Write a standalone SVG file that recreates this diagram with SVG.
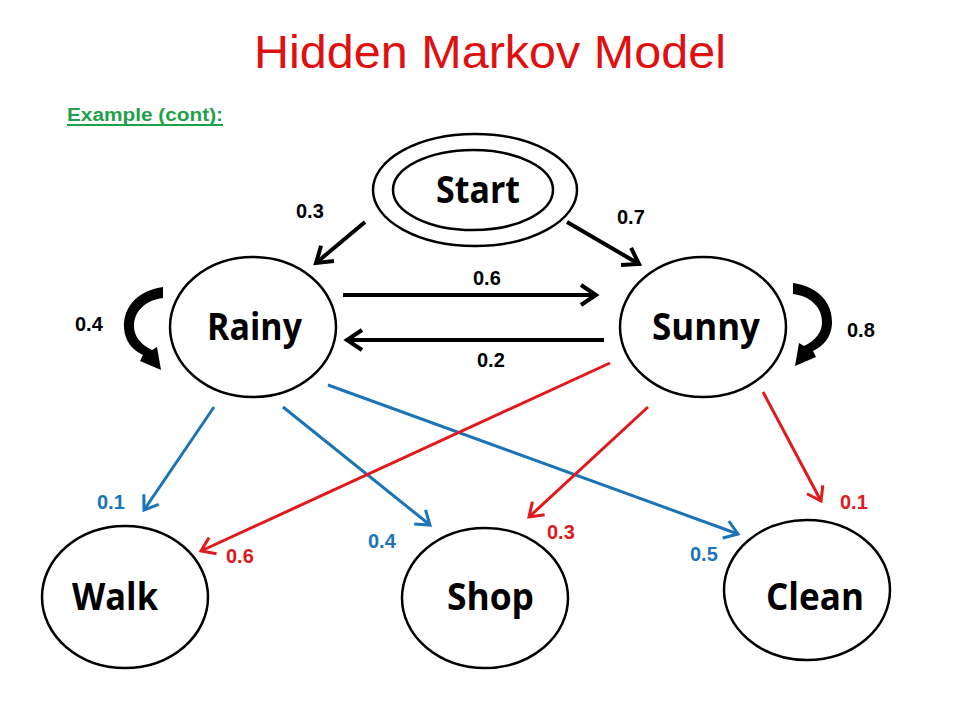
<svg xmlns="http://www.w3.org/2000/svg" width="960" height="720" viewBox="0 0 960 720">
<defs>
<style>
.node{fill:none;stroke:#000;stroke-width:2.5}
.lbl{font-family:"Open Sans","Liberation Sans",sans-serif;font-weight:bold;font-size:37px;fill:#000}
.num{font-family:"Liberation Sans",Arial,sans-serif;font-weight:bold;font-size:20px}
.k{stroke:#000;stroke-width:4;fill:none}
.b{stroke:#1b74b8;stroke-width:3;fill:none}
.r{stroke:#e0191c;stroke-width:3;fill:none}
</style>
<marker id="ak" markerUnits="userSpaceOnUse" markerWidth="30" markerHeight="30" viewBox="-20 -15 30 30" refX="0" refY="0" orient="auto">
<path d="M-15,-10 L0,0 L-15,10" fill="none" stroke="#000" stroke-width="4" stroke-linejoin="miter"/>
</marker>
<marker id="ab" markerUnits="userSpaceOnUse" markerWidth="30" markerHeight="30" viewBox="-20 -15 30 30" refX="0" refY="0" orient="auto">
<path d="M-13,-9 L0,0 L-13,9" fill="none" stroke="#1b74b8" stroke-width="3"/>
</marker>
<marker id="ar" markerUnits="userSpaceOnUse" markerWidth="30" markerHeight="30" viewBox="-20 -15 30 30" refX="0" refY="0" orient="auto">
<path d="M-13,-9 L0,0 L-13,9" fill="none" stroke="#e0191c" stroke-width="3"/>
</marker>
<path id="loop" d="M163,287 C140,290 123,305 124,328 C125,342 133,350 143,355 L140,361 L161,370 L157,347 L152,350 C140,344 134,336 134,326 C134,311 146,300 163,298 Z" fill="#000"/>
</defs>
<rect width="960" height="720" fill="#fff"/>
<text x="490" y="68" text-anchor="middle" font-family="Liberation Sans,Arial,sans-serif" font-size="46" fill="#e01010" textLength="472" lengthAdjust="spacingAndGlyphs">Hidden Markov Model</text>
<text x="67" y="121" font-family="Liberation Sans,Arial,sans-serif" font-weight="bold" font-size="18" fill="#1fa14b" textLength="156" lengthAdjust="spacingAndGlyphs">Example (cont):</text>
<line x1="67" y1="125" x2="223" y2="125" stroke="#1fa14b" stroke-width="2"/>

<g id="start">
<ellipse class="node" cx="475" cy="190" rx="102" ry="56"/>
<ellipse class="node" cx="473" cy="190" rx="80" ry="40"/>
<text class="lbl" x="436" y="203" textLength="84" lengthAdjust="spacingAndGlyphs">Start</text>
</g>
<g id="rainy">
<ellipse class="node" cx="253" cy="327" rx="83" ry="70"/>
<text class="lbl" x="207" y="340" textLength="95" lengthAdjust="spacingAndGlyphs">Rainy</text>
</g>
<g id="sunny">
<ellipse class="node" cx="703" cy="327" rx="83" ry="70"/>
<text class="lbl" x="652" y="340" textLength="108" lengthAdjust="spacingAndGlyphs">Sunny</text>
</g>
<g id="walk">
<ellipse class="node" cx="125" cy="597" rx="83" ry="71"/>
<text class="lbl" x="72" y="610" textLength="86" lengthAdjust="spacingAndGlyphs">Walk</text>
</g>
<g id="shop">
<ellipse class="node" cx="485" cy="598" rx="83" ry="70"/>
<text class="lbl" x="447" y="610" textLength="87" lengthAdjust="spacingAndGlyphs">Shop</text>
</g>
<g id="clean">
<ellipse class="node" cx="807" cy="590" rx="83" ry="70"/>
<text class="lbl" x="766" y="610" textLength="98" lengthAdjust="spacingAndGlyphs">Clean</text>
</g>

<g id="connectors">
<line class="k" x1="365" y1="222" x2="316" y2="263" marker-end="url(#ak)"/>
<line class="k" x1="567" y1="222" x2="639" y2="264" marker-end="url(#ak)"/>
<line class="k" x1="343" y1="295" x2="596" y2="295" marker-end="url(#ak)"/>
<line class="k" x1="604" y1="340" x2="347" y2="340" marker-end="url(#ak)"/>
<use href="#loop"/>
<use href="#loop" transform="translate(956,-4) scale(-1,1)"/>

<line class="b" x1="214" y1="407" x2="144" y2="510" marker-end="url(#ab)"/>
<line class="b" x1="283" y1="407" x2="430" y2="525" marker-end="url(#ab)"/>
<line class="b" x1="328" y1="385" x2="738" y2="534" marker-end="url(#ab)"/>

<line class="r" x1="610" y1="363" x2="201" y2="551" marker-end="url(#ar)"/>
<line class="r" x1="648" y1="407" x2="529" y2="517" marker-end="url(#ar)"/>
<line class="r" x1="763" y1="392" x2="821" y2="501" marker-end="url(#ar)"/>

<text class="num" x="296" y="218" fill="#000">0.3</text>
<text class="num" x="617" y="224" fill="#000">0.7</text>
<text class="num" x="473" y="285" fill="#000">0.6</text>
<text class="num" x="477" y="367" fill="#000">0.2</text>
<text class="num" x="75" y="331" fill="#000">0.4</text>
<text class="num" x="847" y="337" fill="#000">0.8</text>
<text class="num" x="97" y="509" fill="#1b74b8">0.1</text>
<text class="num" x="368" y="548" fill="#1b74b8">0.4</text>
<text class="num" x="690" y="561" fill="#1b74b8">0.5</text>
<text class="num" x="226" y="563" fill="#e0191c">0.6</text>
<text class="num" x="547" y="539" fill="#e0191c">0.3</text>
<text class="num" x="840" y="509" fill="#e0191c">0.1</text>
</g>
</svg>
